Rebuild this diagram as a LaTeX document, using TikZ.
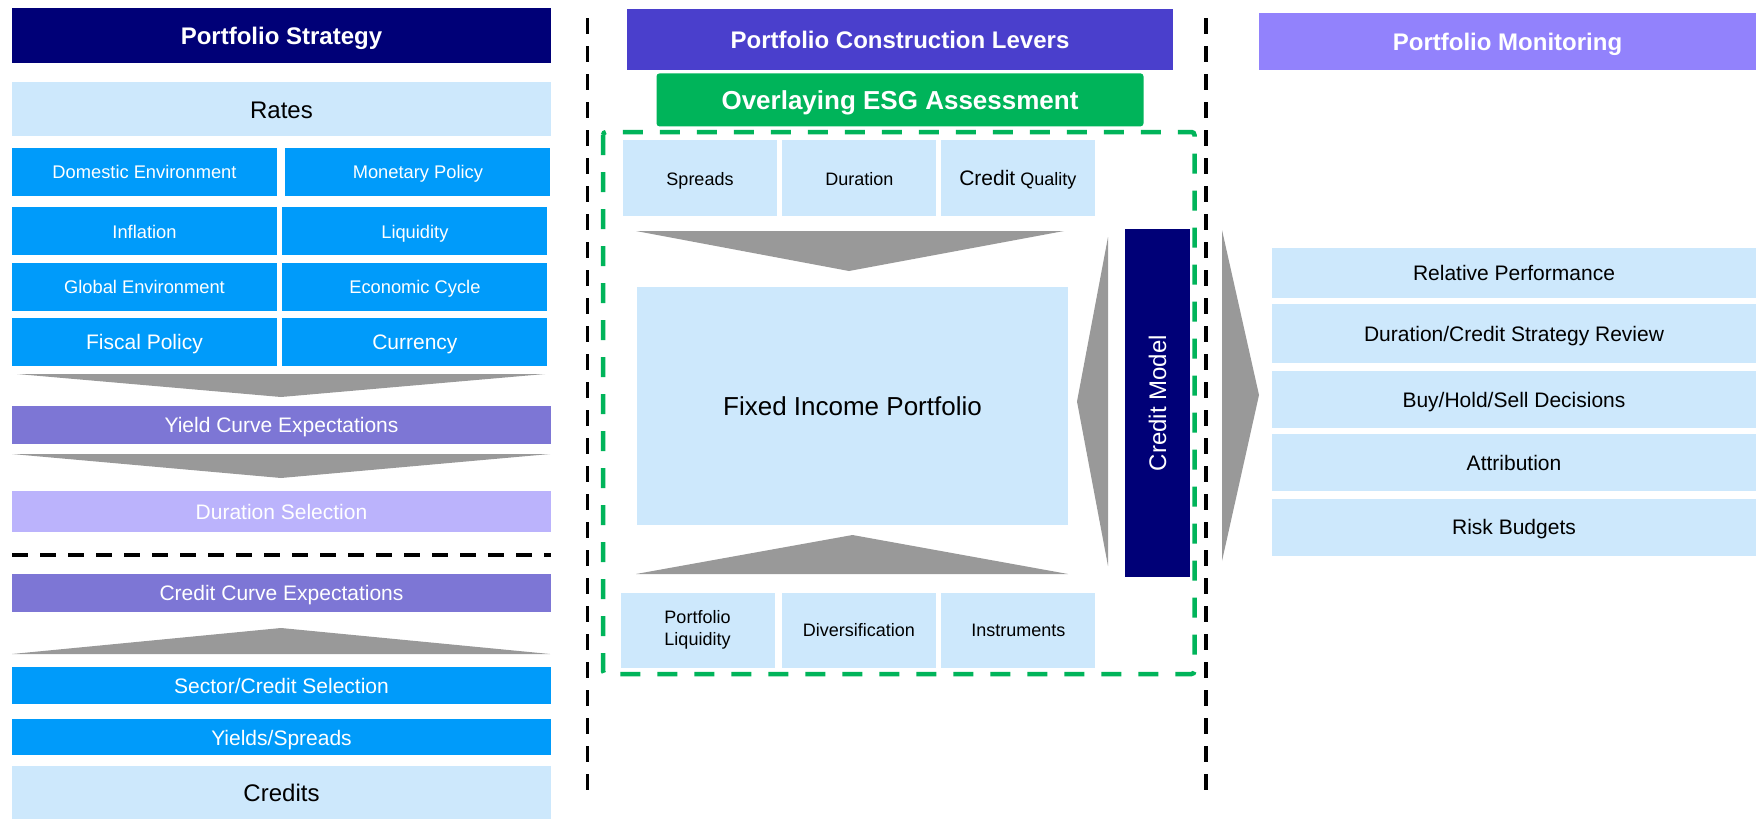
\documentclass[tikz,border=0pt]{standalone}
\usepackage{fontspec}
\setmainfont{Liberation Sans}
\usetikzlibrary{positioning}
\definecolor{pfNavy}{RGB}{0,0,119}
\definecolor{pfLight}{RGB}{205,232,252}
\definecolor{pfBlue}{RGB}{0,155,250}
\definecolor{pfPurple}{RGB}{125,118,213}
\definecolor{pfLilac}{RGB}{187,179,252}
\definecolor{pfIndigo}{RGB}{74,63,204}
\definecolor{pfViolet}{RGB}{146,130,252}
\definecolor{pfGreen}{RGB}{0,180,90}
\definecolor{pfGray}{RGB}{153,153,153}

\begin{document}
\begin{tikzpicture}[
        x=1pt, y=-1pt,
        node distance=7pt,
        hdr/.style={rectangle, inner sep=0pt, text=white, text height=18pt, text depth=0pt, font=\bfseries\fontsize{24}{28}\selectfont},
        lane/.style={rectangle, inner sep=0pt, minimum width=539pt, minimum height=38pt, text height=15.75pt, text depth=0pt, font=\fontsize{21}{25}\selectfont},
        big/.style={text height=18pt, font=\fontsize{24}{28}\selectfont},
        cell/.style={rectangle, fill=pfBlue, text=white, inner sep=0pt, minimum width=265pt, minimum height=48pt, text height=13.7pt, text depth=0pt, font=\fontsize{18.3}{22}\selectfont},
        lever/.style={rectangle, fill=pfLight, inner sep=0pt, minimum width=154pt, minimum height=76pt, align=center, font=\fontsize{18}{22}\selectfont},
        review/.style={rectangle, fill=pfLight, inner sep=0pt, minimum width=484pt, text height=15.75pt, text depth=0pt, font=\fontsize{21}{25}\selectfont},
        chev/.style={fill=pfGray},
        divider/.style={draw=black, line width=3.6pt, dash pattern=on 16pt off 12pt}
    ]
        \fill[white] (0,0) rectangle (1756,819);
        \useasboundingbox (0,0) rectangle (1756,819);

        % Portfolio strategy
        \node[hdr, fill=pfNavy, minimum width=539pt, minimum height=55pt] (strat) at (281.5,35.5) {Portfolio Strategy};
        \node[lane, big, fill=pfLight, minimum height=54pt, below=19pt of strat] (rates) {Rates};

        \node[cell, below=11pt of rates.south west, anchor=north west] (dom) {Domestic Environment};
        \node[cell, right=8pt of dom] (mon) {Monetary Policy};
        \node[cell, below=11pt of dom] (infl) {Inflation};
        \node[cell, right=5pt of infl] (liq) {Liquidity};
        \node[cell, below=7pt of infl] (glob) {Global Environment};
        \node[cell, right=5pt of glob] (econ) {Economic Cycle};
        \node[cell, below=7pt of glob, text height=15.75pt, font=\fontsize{21}{25}\selectfont] (fisc) {Fiscal Policy};
        \node[cell, right=5pt of fisc, text height=15.75pt, font=\fontsize{21}{25}\selectfont] (curr) {Currency};

        \fill[chev] (17,374) -- (545,374) -- (281,397) -- cycle;
        \node[lane, fill=pfPurple, text=white] (ycurve) at (281.5,425) {Yield Curve Expectations};
        \fill[chev] (12,454) -- (550,454) -- (281,478) -- cycle;
        \node[lane, fill=pfLilac, text=white, minimum height=41pt] (dursel) at (281.5,511.5) {Duration Selection};

        \draw[divider] (12,555) -- (551,555);

        \node[lane, fill=pfPurple, text=white] (ccurve) at (281.5,593) {Credit Curve Expectations};
        \fill[chev] (12,654) -- (550,654) -- (281,628) -- cycle;
        \node[lane, fill=pfBlue, text=white, minimum height=37pt] (sect) at (281.5,685.5) {Sector/Credit Selection};
        \node[lane, fill=pfBlue, text=white, minimum height=36pt, below=15pt of sect] (yields) {Yields/Spreads};
        \node[lane, big, fill=pfLight, minimum height=54pt, below=10pt of yields] (credits) {Credits};

        % Column dividers
        \draw[divider] (587.5,18) -- (587.5,790);
        \draw[divider] (1206,18) -- (1206,790);

        % Portfolio construction
        \node[hdr, fill=pfIndigo, minimum width=546pt, minimum height=61pt] (levers) at (900,39.5) {Portfolio Construction Levers};
        \node[hdr, fill=pfGreen, rounded corners=3pt, minimum width=487pt, minimum height=53pt, text height=19.5pt, font=\bfseries\fontsize{26}{30}\selectfont, below=3pt of levers] (esg) {Overlaying ESG Assessment};
        \draw[pfGreen, line width=4.5pt, dash pattern=on 20pt off 17pt, rounded corners=3pt] (603,132) rectangle (1194.5,674);

        \node[lever, text height=14.5pt, text depth=0pt] (spr) at (700,178) {Spreads};
        \node[lever, text height=14.5pt, text depth=0pt, right=5pt of spr] (dur) {Duration};
        \node[lever, text height=15pt, text depth=0pt, right=4pt of dur] (cq) {{\fontsize{21}{24}\selectfont Credit} Quality};
        \fill[chev] (636,231) -- (1064,231) -- (849,271) -- cycle;

        \node[rectangle, fill=pfLight, inner sep=0pt, minimum width=431pt, minimum height=238pt, font=\fontsize{26}{30}\selectfont] (fip) at (852.5,406) {Fixed Income Portfolio};

        \fill[chev] (636,574) -- (1068,574) -- (852.5,535) -- cycle;
        \node[lever, minimum height=75pt] (pliq) at (697.5,630) {Portfolio\\Liquidity};
        \node[lever, minimum height=75pt, text height=13.5pt, text depth=0pt, right=7pt of pliq] (div) {Diversification};
        \node[lever, minimum height=75pt, text height=13.5pt, text depth=0pt, right=5pt of div] (instr) {Instruments};

        \fill[chev] (1108,237) -- (1108,566) -- (1077,401.5) -- cycle;
        \node[rectangle, rotate=90, fill=pfNavy, text=white, inner sep=0pt, minimum width=348pt, minimum height=65pt, font=\fontsize{24}{28}\selectfont] (cmodel) at (1157.5,403) {Credit Model};
        \fill[chev] (1222,230) -- (1222,561) -- (1259,395) -- cycle;

        % Portfolio monitoring
        \node[hdr, fill=pfViolet, minimum width=497pt, minimum height=57pt] (monit) at (1507.5,41.5) {Portfolio Monitoring};
        \node[review, minimum height=50pt] (relp) at (1514,273) {Relative Performance};
        \node[review, minimum height=59pt, below=6pt of relp] (dcsr) {Duration/Credit Strategy Review};
        \node[review, minimum height=57pt, below=7pt of dcsr] (bhs) {Buy/Hold/Sell Decisions};
        \node[review, minimum height=57pt, below=6pt of bhs] (attr) {Attribution};
        \node[review, minimum height=57pt, below=7pt of attr] (risk) {Risk Budgets};
    \end{tikzpicture}
\end{document}
